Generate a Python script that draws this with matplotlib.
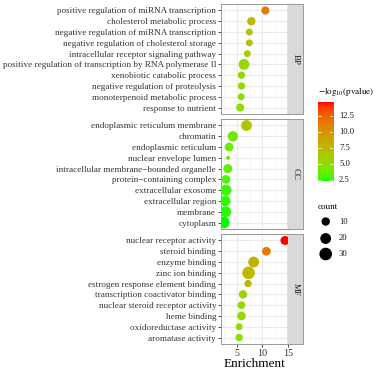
import numpy as np
import matplotlib
matplotlib.use("Agg")
import matplotlib.pyplot as plt
from matplotlib.colors import ListedColormap

plt.rcParams['font.family'] = ['Liberation Serif', 'DejaVu Serif']
plt.rcParams['mathtext.fontset'] = 'stix'

# ---- data ----
bp_terms = ["positive regulation of miRNA transcription", "cholesterol metabolic process",
            "negative regulation of miRNA transcription", "negative regulation of cholesterol storage",
            "intracellular receptor signaling pathway",
            "positive regulation of transcription by RNA polymerase II",
            "xenobiotic catabolic process", "negative regulation of proteolysis",
            "monoterpenoid metabolic process", "response to nutrient"]
bp_enrich = [10.6, 7.85, 7.45, 7.45, 7.05, 6.4, 5.9, 5.9, 5.85, 5.65]
bp_logp = [11.5, 7.6, 7.0, 7.0, 6.5, 5.6, 5.1, 5.1, 5.0, 4.9]
bp_count = [9, 10, 6, 6, 6, 20, 7, 7, 6, 9]

cc_terms = ["endoplasmic reticulum membrane", "chromatin", "endoplasmic reticulum",
            "nuclear envelope lumen", "intracellular membrane\u2212bounded organelle",
            "protein\u2212containing complex", "extracellular exosome", "extracellular region",
            "membrane", "cytoplasm"]
cc_enrich = [6.9, 4.2, 3.47, 3.27, 3.2, 2.87, 2.87, 2.73, 2.8, 2.48]
cc_logp = [6.8, 4.0, 3.6, 3.5, 3.4, 3.0, 2.8, 2.6, 2.6, 2.39]
cc_count = [20, 18, 11, 3, 12, 11, 21, 18, 21, 23]

mf_terms = ["nuclear receptor activity", "steroid binding", "enzyme binding", "zinc ion binding",
            "estrogen response element binding", "transcription coactivator binding",
            "nuclear steroid receptor activity", "heme binding", "oxidoreductase activity",
            "aromatase activity"]
mf_enrich = [14.45, 10.8, 8.3, 7.3, 7.2, 6.2, 5.9, 5.9, 5.45, 5.45]
mf_logp = [14.67, 11.5, 8.2, 7.6, 7.5, 5.6, 5.4, 5.4, 5.0, 5.0]
mf_count = [12, 11, 20, 30, 7, 10, 8, 11, 6, 7]

panels = [("BP", bp_terms, bp_enrich, bp_logp, bp_count),
          ("CC", cc_terms, cc_enrich, cc_logp, cc_count),
          ("MF", mf_terms, mf_enrich, mf_logp, mf_count)]

legend_counts = [10, 20, 30]
cbar_ticks = [2.5, 5.0, 7.5, 10.0, 12.5]


# ---- green -> red gradient interpolated in CIELAB (like ggplot) ----
def srgb_to_lab(rgb):
    rgb = np.asarray(rgb, float)
    lin = np.where(rgb <= 0.04045, rgb / 12.92, ((rgb + 0.055) / 1.055) ** 2.4)
    M = np.array([[0.4124, 0.3576, 0.1805], [0.2126, 0.7152, 0.0722], [0.0193, 0.1192, 0.9505]])
    xyz = M @ lin / np.array([0.95047, 1.0, 1.08883])
    f = np.where(xyz > 0.008856, np.cbrt(xyz), 7.787 * xyz + 16 / 116)
    return np.array([116 * f[1] - 16, 500 * (f[0] - f[1]), 200 * (f[1] - f[2])])


def lab_to_srgb(lab):
    L, a, b = lab
    fy = (L + 16) / 116
    fx = fy + a / 500
    fz = fy - b / 200
    f = np.array([fx, fy, fz])
    xyz = np.where(f ** 3 > 0.008856, f ** 3, (f - 16 / 116) / 7.787) * np.array([0.95047, 1.0, 1.08883])
    Minv = np.array([[3.2406, -1.5372, -0.4986], [-0.9689, 1.8758, 0.0415], [0.0557, -0.2040, 1.0570]])
    lin = np.clip(Minv @ xyz, 0, 1)
    rgb = np.where(lin <= 0.0031308, 12.92 * lin, 1.055 * lin ** (1 / 2.4) - 0.055)
    return np.clip(rgb, 0, 1)


lo, hi = srgb_to_lab([0, 1, 0]), srgb_to_lab([1, 0, 0])
cmap = ListedColormap([lab_to_srgb(lo + t * (hi - lo)) for t in np.linspace(0, 1, 256)])

all_logp = bp_logp + cc_logp + mf_logp
all_count = bp_count + cc_count + mf_count
all_enrich = bp_enrich + cc_enrich + mf_enrich
vmin, vmax = min(all_logp), max(all_logp)
cmin, cmax = min(all_count), max(all_count)


def point_size(c):
    # diameter in px grows with sqrt of rescaled count, then -> points^2
    d = 4.0 + 8.6 * np.sqrt((np.asarray(c, float) - cmin) / (cmax - cmin))
    return (d * 0.72) ** 2


W, H = 382, 372
fig = plt.figure(figsize=(W / 100, H / 100), dpi=100)

xr = max(all_enrich) - min(all_enrich)
xlim = (min(all_enrich) - 0.05 * xr, max(all_enrich) + 0.05 * xr)

px_left, px_right, strip_w = 221, 288, 15
tops = [4, 119, 234]
ph = 110
for (name, terms, enrich, logp, count), top in zip(panels, tops):
    ax = fig.add_axes([px_left / W, (H - top - ph) / H, (px_right - px_left) / W, ph / H])
    n = len(terms)
    rows = np.arange(n)
    ax.scatter(enrich, rows, s=point_size(count), c=logp, cmap=cmap, vmin=vmin, vmax=vmax,
               linewidths=0, zorder=3)
    ax.set_xlim(*xlim)
    ax.set_ylim(n - 1 + 0.6, -0.6)
    ax.set_xticks([5, 10, 15])
    ax.set_xticks([2.5, 7.5, 12.5], minor=True)
    ax.set_yticks(rows)
    ax.set_yticklabels(terms, fontsize=6.55, color='#333333')
    ax.grid(True, which='major', color='#EBEBEB', lw=0.8, zorder=0)
    ax.grid(True, which='minor', axis='x', color='#F3F3F3', lw=0.5, zorder=0)
    ax.set_axisbelow(True)
    ax.tick_params(axis='y', length=2, width=0.6, color='#333333', pad=1.5)
    ax.tick_params(axis='x', which='minor', length=0)
    if name == "MF":
        ax.tick_params(axis='x', length=2, width=0.6, color='#333333', pad=1.5,
                       labelsize=7.2, labelcolor='#333333')
        ax.set_xlabel("Enrichment", fontsize=9.5, labelpad=0)
    else:
        ax.tick_params(axis='x', length=0, labelbottom=False)
    for side in ['left', 'top', 'bottom']:
        ax.spines[side].set_color('#999999')
        ax.spines[side].set_linewidth(0.7)
    ax.spines['right'].set_color('#333333')
    ax.spines['right'].set_linewidth(0.9)

    sax = fig.add_axes([px_right / W, (H - top - ph) / H, strip_w / W, ph / H])
    sax.set_facecolor('#D9D9D9')
    sax.set_xticks([])
    sax.set_yticks([])
    for side in ['top', 'right', 'bottom']:
        sax.spines[side].set_color('#999999')
        sax.spines[side].set_linewidth(0.7)
    sax.spines['left'].set_visible(False)
    sax.text(0.5, 0.5, name, rotation=-90, ha='center', va='center', fontsize=6.5,
             color='#1A1A1A', transform=sax.transAxes)

# colour bar
cb_x0, cb_x1, cb_y0, cb_y1 = 317.7, 333.3, 101.7, 180.7
cax = fig.add_axes([cb_x0 / W, (H - cb_y1) / H, (cb_x1 - cb_x0) / W, (cb_y1 - cb_y0) / H])
grad = np.linspace(vmin, vmax, 200).reshape(-1, 1)
cax.imshow(grad, cmap=cmap, vmin=vmin, vmax=vmax, aspect='auto', origin='lower',
           extent=[0, 1, vmin, vmax], interpolation='bilinear')
for t in cbar_ticks:
    cax.plot([0, 0.2], [t, t], color='white', lw=0.5)
    cax.plot([0.8, 1], [t, t], color='white', lw=0.5)
cax.set_xlim(0, 1)
cax.set_ylim(vmin, vmax)
cax.axis('off')

# overlay in pixel coordinates for legend text and keys
lax = fig.add_axes([0, 0, 1, 1])
lax.set_xlim(0, W)
lax.set_ylim(H, 0)
lax.axis('off')
lax.text(318, 92, r'$\mathrm{-log_{10}(pvalue)}$', fontsize=6.5, ha='left', va='center')
for t in cbar_ticks:
    ty = cb_y1 - (t - vmin) / (vmax - vmin) * (cb_y1 - cb_y0)
    lax.text(339, ty, f"{t:.1f}", fontsize=6.2, ha='left', va='center', color='#1A1A1A')

lax.text(318, 207, "count", fontsize=6.5, ha='left', va='center')
key_y = [221.5, 238.5, 254]
lax.scatter([325.7] * len(legend_counts), key_y, s=point_size(legend_counts), color='black',
            linewidths=0)
for c, ky in zip(legend_counts, key_y):
    lax.text(339, ky, str(c), fontsize=6.2, ha='left', va='center', color='#1A1A1A')

fig.savefig("out.png", dpi=100)
